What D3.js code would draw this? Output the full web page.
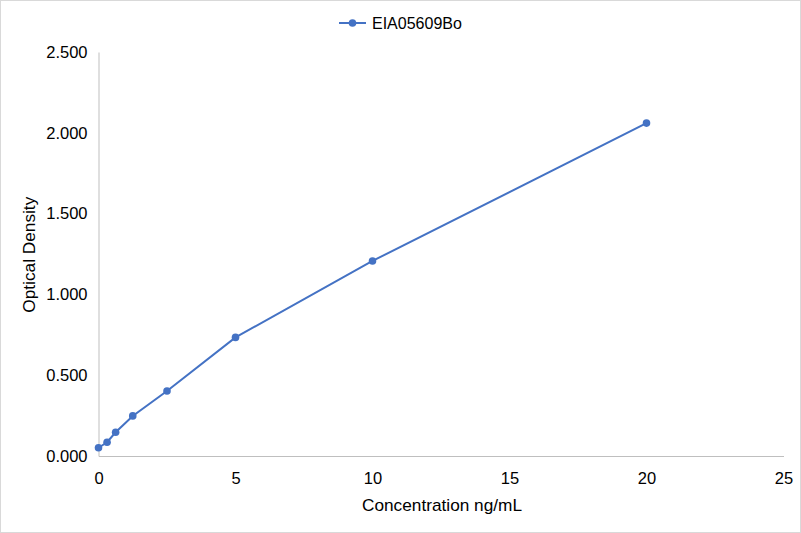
<!DOCTYPE html>
<html><head><meta charset="utf-8">
<script src="https://cdn.jsdelivr.net/npm/d3@7"></script>
<style>body{margin:0;background:#fff}svg{display:block}text{font-family:"Liberation Sans",Arial,sans-serif}</style>
</head><body>
<svg id="c" width="801" height="533"></svg>
<script>
const seriesName = "EIA05609Bo";
const concentrations = [0, 0.3125, 0.625, 1.25, 2.5, 5, 10, 20];
const odValues = [0.051, 0.085, 0.147, 0.248, 0.402, 0.734, 1.207, 2.060];
const xTicks = [0, 5, 10, 15, 20, 25];
const yTicks = [0, 0.5, 1.0, 1.5, 2.0, 2.5];
const xTitle = "Concentration ng/mL";
const yTitle = "Optical Density";

const svg = d3.select("#c");
const W = 801, H = 533;
const m = {l: 98.5, r: 783.5, t: 52, b: 456};
const color = "#4472C4";

svg.append("rect").attr("x",0.5).attr("y",0.5).attr("width",W-1).attr("height",H-1)
  .attr("fill","#fff").attr("stroke","#d9d9d9");

const x = d3.scaleLinear().domain([0,25]).range([m.l, m.r]);
const y = d3.scaleLinear().domain([0,2.5]).range([m.b, m.t]);

// axes
const xAxis = svg.append("g").attr("transform",`translate(0,${m.b})`)
  .call(d3.axisBottom(x).tickValues(xTicks).tickSize(0).tickPadding(16).tickFormat(d3.format("d")));
const yAxis = svg.append("g").attr("transform",`translate(${m.l},0)`)
  .call(d3.axisLeft(y).tickValues(yTicks).tickSize(0).tickPadding(11).tickFormat(d3.format(".3f")));
[xAxis,yAxis].forEach(g=>{
  g.select(".domain").attr("stroke","#bfbfbf").attr("stroke-width",1);
  g.selectAll("text").attr("fill","#000").attr("font-size","16.5px").attr("font-family","Liberation Sans, Arial, sans-serif");
});

// line
const line = d3.line().x((d,i)=>x(concentrations[i])).y(d=>y(d));
svg.append("path").datum(odValues).attr("d",line).attr("fill","none")
  .attr("stroke",color).attr("stroke-width",2);
svg.selectAll("circle.pt").data(odValues).join("circle").attr("class","pt")
  .attr("cx",(d,i)=>x(concentrations[i])).attr("cy",d=>y(d)).attr("r",3.8).attr("fill",color);

// titles
svg.append("text").attr("x",442).attr("y",511).attr("text-anchor","middle")
  .attr("font-size","17px").attr("fill","#000")
  .attr("textLength",160).attr("lengthAdjust","spacingAndGlyphs").text(xTitle);
svg.append("text").attr("transform","translate(34.5,254.7) rotate(-90)").attr("text-anchor","middle")
  .attr("font-size","17px").attr("fill","#000")
  .attr("textLength",116).attr("lengthAdjust","spacingAndGlyphs").text(yTitle);

// legend
const lg = svg.append("g");
lg.append("line").attr("x1",339).attr("x2",366).attr("y1",23).attr("y2",23).attr("stroke",color).attr("stroke-width",2);
lg.append("circle").attr("cx",352.5).attr("cy",23).attr("r",3.8).attr("fill",color);
lg.append("text").attr("x",372).attr("y",28.5).attr("font-size","16px").attr("fill","#000").text(seriesName);
</script>
</body></html>
